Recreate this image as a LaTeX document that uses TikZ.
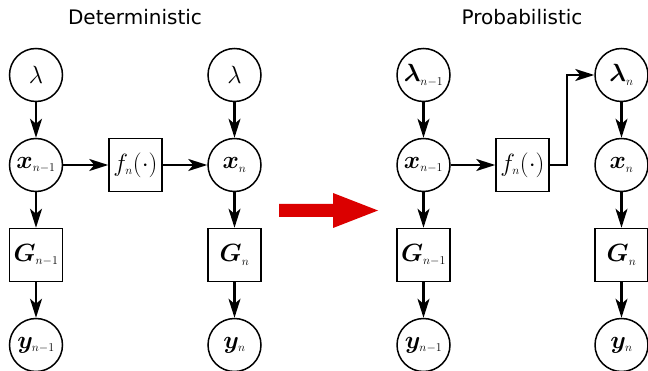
\documentclass[tikz,border=0pt]{standalone}
\usepackage{amsmath}
\usepackage{bm}
\usepackage{fontspec}
\newfontfamily\titlefont{DejaVu Sans}
\usetikzlibrary{arrows.meta}
\newcommand{\ssb}[1]{_{\scriptscriptstyle #1}}
\begin{document}
\begin{tikzpicture}[x=1pt,y=-1pt,
  every node/.style={font=\fontsize{24}{28}\selectfont},
  circ/.style={draw,circle,line width=1.5pt,minimum size=53pt,inner sep=0pt},
  sq/.style={draw,rectangle,line width=1.5pt,minimum size=53pt,inner sep=0pt},
  arr/.style={line width=2.2pt,-{Stealth[length=19pt,width=12pt,inset=5pt]}},
  ttl/.style={font=\titlefont\fontsize{20}{24}\selectfont}]
\useasboundingbox (0,0) rectangle (648,371);
% titles
\node[ttl] (t1) at (135,17) {Deterministic};
\node[ttl] (t2) at (522,17) {Probabilistic};
% deterministic
\node[circ] (la) at (36,75) {$\lambda$};
\node[circ] (xa) at (36,165) {$\bm{x}\ssb{n-1}$};
\node[sq]   (ga) at (36,255) {$\bm{G}\ssb{n-1}$};
\node[circ] (ya) at (36,345) {$\bm{y}\ssb{n-1}$};
\node[sq]   (fa) at (135.5,165) {$f\ssb{n}(\cdot)$};
\node[circ] (lb) at (234.5,75) {$\lambda$};
\node[circ] (xb) at (234.5,165) {$\bm{x}\ssb{n}$};
\node[sq]   (gb) at (234.5,255) {$\bm{G}\ssb{n}$};
\node[circ] (yb) at (234.5,345) {$\bm{y}\ssb{n}$};
\draw[arr] (la) -- (xa);
\draw[arr] (xa) -- (ga);
\draw[arr] (ga) -- (ya);
\draw[arr] (lb) -- (xb);
\draw[arr] (xb) -- (gb);
\draw[arr] (gb) -- (yb);
\draw[arr] (xa) -- (fa);
\draw[arr] (fa) -- (xb);
% big red arrow
\fill[red!86!black] (279,204) -- (333,204) -- (333,193) -- (378,210.5) -- (333,228) -- (333,217) -- (279,217) -- cycle;
% probabilistic
\node[circ] (lc) at (423.5,75) {$\bm{\lambda}\ssb{n-1}$};
\node[circ] (xc) at (423.5,165) {$\bm{x}\ssb{n-1}$};
\node[sq]   (gc) at (423.5,255) {$\bm{G}\ssb{n-1}$};
\node[circ] (yc) at (423.5,345) {$\bm{y}\ssb{n-1}$};
\node[sq]   (fc) at (522.5,165) {$f\ssb{n}(\cdot)$};
\node[circ] (ld) at (621.5,75) {$\bm{\lambda}\ssb{n}$};
\node[circ] (xd) at (621.5,165) {$\bm{x}\ssb{n}$};
\node[sq]   (gd) at (621.5,255) {$\bm{G}\ssb{n}$};
\node[circ] (yd) at (621.5,345) {$\bm{y}\ssb{n}$};
\draw[arr] (lc) -- (xc);
\draw[arr] (xc) -- (gc);
\draw[arr] (gc) -- (yc);
\draw[arr] (ld) -- (xd);
\draw[arr] (xd) -- (gd);
\draw[arr] (gd) -- (yd);
\draw[arr] (xc) -- (fc);
\coordinate (bend) at (567,165);
\draw[arr] (fc.east) -- (bend) |- (ld.west);
\end{tikzpicture}
\end{document}
